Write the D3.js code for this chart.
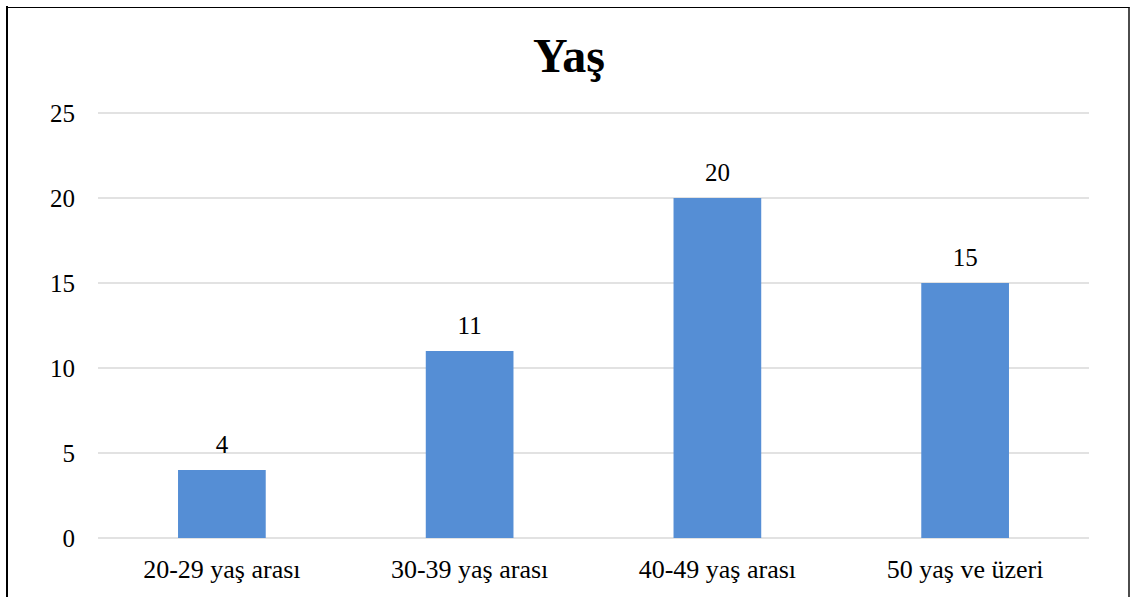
<!DOCTYPE html>
<html><head><meta charset="utf-8">
<script src="https://cdn.jsdelivr.net/npm/d3@7"></script>
<style>html,body{margin:0;padding:0;background:#fff;}svg{display:block;}</style>
</head><body>
<svg id="c" width="1131" height="597"></svg>
<script>
const title = "Yaş";
const categories = ["20-29 yaş arası", "30-39 yaş arası", "40-49 yaş arası", "50 yaş ve üzeri"];
const values = [4, 11, 20, 15];
const yTicks = [0, 5, 10, 15, 20, 25];

const svg = d3.select("#c");
const font = "'Liberation Serif','Times New Roman',serif";
const x = d3.scaleBand().domain(categories).range([98, 1089]).padding(0);
const y = d3.scaleLinear().domain([0, 25]).range([538, 113]);
const barW = x.bandwidth() * 0.354;

// border
svg.append("line").attr("x1",7).attr("x2",7).attr("y1",6).attr("y2",597).attr("stroke","#000").attr("stroke-width",2);
svg.append("line").attr("x1",6).attr("x2",1129.5).attr("y1",7.5).attr("y2",7.5).attr("stroke","#000").attr("stroke-width",1.2);
svg.append("line").attr("x1",1129).attr("x2",1129).attr("y1",7).attr("y2",597).attr("stroke","#000").attr("stroke-width",1.4);

// gridlines
svg.append("g").selectAll("line").data(yTicks).join("line")
  .attr("x1",98).attr("x2",1089)
  .attr("y1",d=>y(d)).attr("y2",d=>y(d))
  .attr("stroke","#d9d9d9").attr("stroke-width",1.5);

// y labels
svg.append("g").selectAll("text").data(yTicks).join("text")
  .attr("x",75).attr("y",d=>y(d)).attr("dy","0.35em")
  .attr("text-anchor","end").attr("font-family",font).attr("font-size",25).attr("fill","#000")
  .text(d=>d);

// bars
svg.append("g").selectAll("rect").data(values).join("rect")
  .attr("x",(d,i)=>x(categories[i]) + x.bandwidth()/2 - barW/2)
  .attr("width",barW)
  .attr("y",d=>y(d)).attr("height",d=>y(0)-y(d))
  .attr("fill","#558ed5");

// value labels
svg.append("g").selectAll("text").data(values).join("text")
  .attr("x",(d,i)=>x(categories[i]) + x.bandwidth()/2)
  .attr("y",d=>y(d) - 17)
  .attr("text-anchor","middle").attr("font-family",font).attr("font-size",25).attr("fill","#000")
  .text(d=>d);

// category labels
svg.append("g").selectAll("text").data(categories).join("text")
  .attr("x",d=>x(d) + x.bandwidth()/2).attr("y",578)
  .attr("text-anchor","middle").attr("font-family",font).attr("font-size",26).attr("fill","#000")
  .text(d=>d);

// title
svg.append("text").attr("x",569).attr("y",72).attr("text-anchor","middle")
  .attr("font-family",font).attr("font-size",48).attr("font-weight","bold").attr("fill","#000")
  .text(title);
</script>
</body></html>
